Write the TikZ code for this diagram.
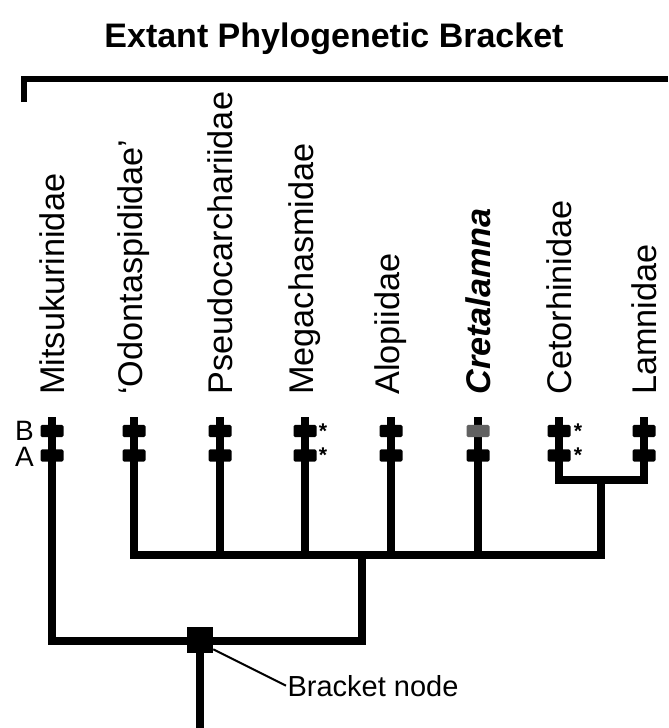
\documentclass[tikz,border=0pt]{standalone}
\usepackage{fontspec}
\setmainfont{Liberation Sans}
\begin{document}
\begin{tikzpicture}[x=0.75pt,y=-0.75pt,
  branch/.style={line width=6.3pt, line join=miter, line cap=butt},
  stem/.style={line width=6pt, line cap=butt},
  bar/.style={rectangle, fill=black, minimum width=17.25pt, minimum height=9.2pt, inner sep=0pt, rounded corners=1.2pt},
  greybar/.style={bar, fill=black!62},
  taxon/.style={rotate=90, anchor=west, inner sep=0pt, font=\fontsize{25.7pt}{30pt}\selectfont},
  ast/.style={anchor=base, inner sep=0pt, font=\bfseries\fontsize{16pt}{18pt}\selectfont},
  ablabel/.style={anchor=east, inner sep=0pt, font=\fontsize{21pt}{24pt}\selectfont}]
\useasboundingbox (0,0) rectangle (668,728);

% title and extant bracket
\node[anchor=base, inner sep=0pt, font=\bfseries\fontsize{25.5pt}{30pt}\selectfont] (title) at (334,47) {Extant Phylogenetic Bracket};
\coordinate (brL) at (24,102);
\coordinate (brC) at (24,79);
\coordinate (brR) at (668,79);
\draw[line width=4.5pt, line join=miter, line cap=butt] (brL) -- (brC) -- (brR);

% taxon labels
\node[taxon] (lMit) at (52,395) {Mitsukurinidae};
\node[taxon] (lOdo) at (134,395) {‘Odontaspididae’};
\node[taxon] (lPse) at (220,395) {Pseudocarchariidae};
\node[taxon] (lMeg) at (305,395) {Megachasmidae};
\node[taxon] (lAlo) at (391,395) {Alopiidae};
\node[taxon, font=\bfseries\itshape\fontsize{25.7pt}{30pt}\selectfont] (lCre) at (478,395) {Cretalamna};
\node[taxon] (lCet) at (559,395) {Cetorhinidae};
\node[taxon] (lLam) at (644,395) {Lamnidae};

% tips and internal points
\coordinate (tMit) at (52,417);
\coordinate (tOdo) at (134,417);
\coordinate (tPse) at (220,417);
\coordinate (tMeg) at (305,417);
\coordinate (tAlo) at (391,417);
\coordinate (tCre) at (478,417);
\coordinate (tCet) at (559,417);
\coordinate (tLam) at (644,417);

\coordinate (cetL) at (559,480);
\coordinate (lamR) at (644,480);
\coordinate (clMid) at (601,480);
\coordinate (clBot) at (601,555);
\coordinate (bigL) at (134,555);
\coordinate (bPse) at (220,555);
\coordinate (bMeg) at (305,555);
\coordinate (bAlo) at (391,555);
\coordinate (bCre) at (478,555);
\coordinate (bigMid) at (362,555);
\coordinate (rootR) at (362,641);
\coordinate (rootL) at (52,641);
\coordinate (base) at (200,728);

% stems
\draw[stem] (tPse) -- (bPse);
\draw[stem] (tMeg) -- (bMeg);
\draw[stem] (tAlo) -- (bAlo);
\draw[stem] (tCre) -- (bCre);
% branches
\draw[branch] (tCet) -- (cetL) -- (lamR) -- (tLam);
\draw[branch] (clMid) -- (clBot) -- (bigL) -- (tOdo);
\draw[branch] (bigMid) -- (rootR) -- (rootL) -- (tMit);

% bracket node
\node[fill=black, minimum size=19.5pt, inner sep=0pt] (bn) at (200,640) {};
\draw[stem] (bn.center) -- (base);
\node[anchor=base west, inner sep=1pt, font=\fontsize{21.75pt}{26pt}\selectfont] (bnl) at (286,696) {Bracket node};
\draw[line width=1.5pt] ([yshift=3pt]bn.south east) -- (bnl.west);

% character bars (B upper, A lower)
\foreach \n/\x in {Mit/52,Odo/134,Pse/220,Meg/305,Alo/391,Cet/559,Lam/644}{
  \node[bar] (B\n) at (\x,431) {};
  \node[bar] (A\n) at (\x,455.5) {};
}
\node[greybar] (BCre) at (478,431) {};
\node[bar] (ACre) at (478,455.5) {};

% A / B labels
\node[ablabel] (labB) at (34,431) {B};
\node[ablabel] (labA) at (34,457) {A};

% asterisks
\node[ast] (sMegB) at (323,438) {*};
\node[ast] (sMegA) at (323,462) {*};
\node[ast] (sCetB) at (578,438) {*};
\node[ast] (sCetA) at (578,462) {*};
\end{tikzpicture}
\end{document}
